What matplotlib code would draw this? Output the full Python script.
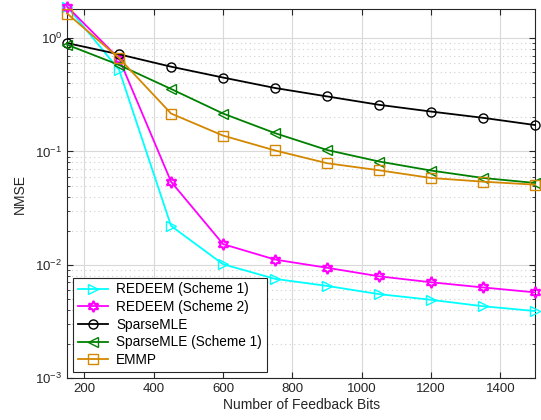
import numpy as np
import matplotlib
matplotlib.use('Agg')
import matplotlib.pyplot as plt

plt.rcParams['font.family'] = ['Liberation Sans', 'DejaVu Sans']

# Data
bits = [150, 300, 450, 600, 750, 900, 1050, 1200, 1350, 1500]
redeem_s1 = [1.90, 0.525, 0.022, 0.0101, 0.0075, 0.0065, 0.0055, 0.0049, 0.0043, 0.0039]
redeem_s2 = [1.90, 0.66, 0.054, 0.0152, 0.0111, 0.0094, 0.0079, 0.0070, 0.0063, 0.0057]
sparse_mle = [0.905, 0.72, 0.56, 0.449, 0.363, 0.306, 0.258, 0.225, 0.198, 0.171]
sparse_mle_s1 = [0.875, 0.58, 0.356, 0.216, 0.145, 0.103, 0.0815, 0.0678, 0.0583, 0.0527]
emmp = [1.65, 0.667, 0.216, 0.138, 0.102, 0.0787, 0.0682, 0.0583, 0.0541, 0.0509]

fig = plt.figure(figsize=(5.41, 4.2), dpi=100)
ax = fig.add_axes([0.124, 0.1, 0.865, 0.878])

hexagram = (6, 1, 0)
ax.plot(bits, redeem_s1, color='cyan', marker='>', mfc='none', ms=7, lw=1.3,
        label='REDEEM (Scheme 1)', clip_on=False, zorder=3)
ax.plot(bits, redeem_s2, color='magenta', marker=hexagram, mfc='none', ms=8, mew=1.5,
        lw=1.3, label='REDEEM (Scheme 2)', clip_on=False, zorder=3)
ax.plot(bits, sparse_mle, color='black', marker='o', mfc='none', ms=6.5, lw=1.3,
        label='SparseMLE', clip_on=False, zorder=3)
ax.plot(bits, sparse_mle_s1, color=(0, 0.5, 0), marker='<', mfc='none', ms=7, lw=1.3,
        label='SparseMLE (Scheme 1)', clip_on=False, zorder=3)
ax.plot(bits, emmp, color=(0.83, 0.53, 0.0), marker='s', mfc='none', ms=6.5, lw=1.3,
        label='EMMP', clip_on=False, zorder=3)

ax.set_yscale('log')
ax.set_xlim(150, 1500)
ax.set_ylim(1e-3, 1.8)
ax.set_xticks([200, 400, 600, 800, 1000, 1200, 1400])

ax.grid(True, which='major', color='#d9d9d9', lw=0.8, ls='-')
ax.grid(True, which='minor', axis='y', color='#d0d0d0', lw=0.8, ls=(0, (1, 3)))
ax.set_axisbelow(True)

ax.tick_params(which='both', direction='in', top=True, right=True, labelsize=9.5,
               colors='#262626')
ax.tick_params(which='major', length=4)
ax.tick_params(which='minor', length=2.5)
for s in ax.spines.values():
    s.set_color('#262626')
    s.set_linewidth(0.8)

ax.set_xlabel('Number of Feedback Bits', fontsize=10, color='#262626', labelpad=2)
ax.set_ylabel('NMSE', fontsize=10, color='#262626', labelpad=6)

leg = ax.legend(loc='lower left', fontsize=9.8, fancybox=False, framealpha=1,
                edgecolor='#262626', handlelength=2.2, borderpad=0.35,
                labelspacing=0.27, borderaxespad=0.45, handletextpad=0.6)
leg.get_frame().set_linewidth(0.8)

fig.savefig('out.png', dpi=100)
